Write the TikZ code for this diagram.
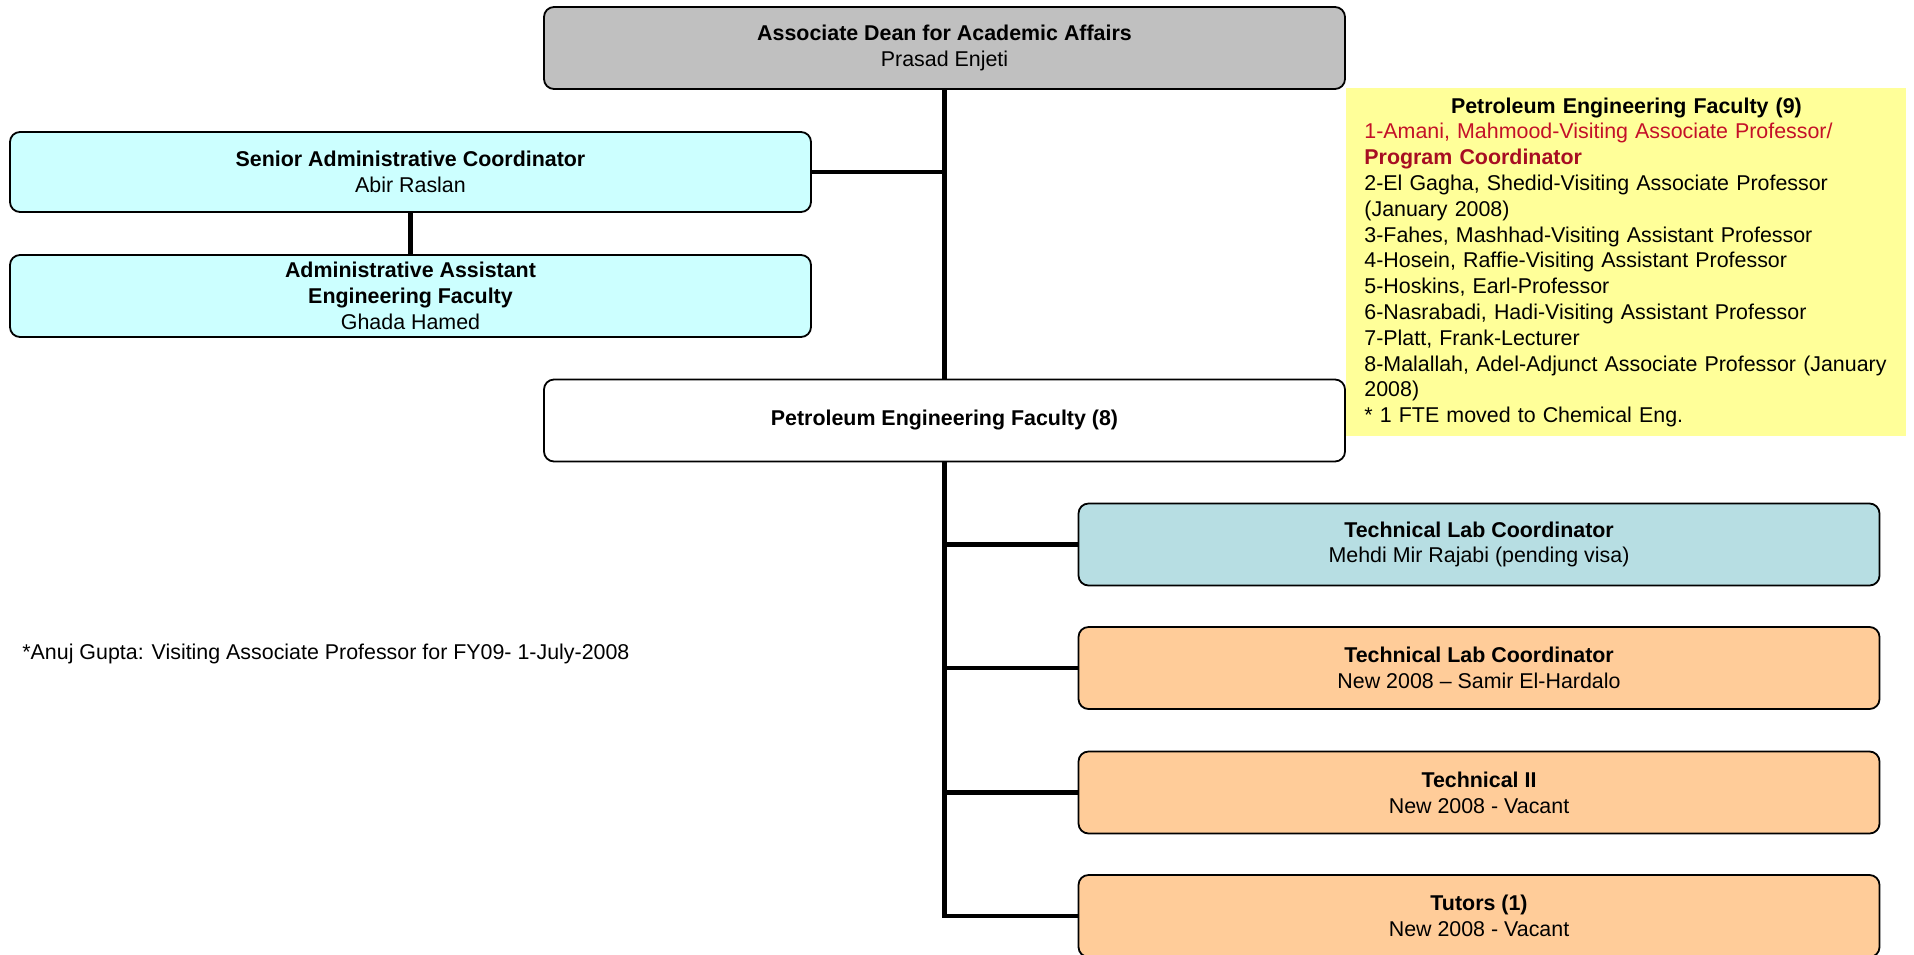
\documentclass[tikz,border=0pt]{standalone}
\usepackage{fontspec}
\setmainfont{Liberation Sans}
\usepackage{tikz}
\usetikzlibrary{calc,positioning}
\definecolor{deangray}{RGB}{192,192,192}
\definecolor{admincyan}{RGB}{204,255,255}
\definecolor{labteal}{RGB}{183,222,227}
\definecolor{techorange}{RGB}{255,204,153}
\definecolor{notesyellow}{RGB}{255,255,153}
\definecolor{coordred}{RGB}{196,16,40}
\newcommand{\boxfont}{\fontsize{10.7}{12.9}\selectfont}
\tikzset{
  orgbox/.style={draw, line width=0.9pt, rounded corners=5pt, minimum width=400.5pt,
    minimum height=41pt, align=center, font=\boxfont},
  trunk/.style={line width=2.2pt},
  yellowpanel/.style={fill=notesyellow, text width=262pt, inner xsep=9pt, inner ysep=0pt,
    minimum height=174pt, align=left, font=\boxfont},
}

\begin{document}
\begin{tikzpicture}[x=0.5pt,y=-0.5pt]
    \pgfmathsetmacro{\midx}{944.5}
    \pgfmathsetmacro{\leftx}{410.5}
    \pgfmathsetmacro{\rightx}{1479}

    \useasboundingbox (0,0) rectangle (1914,954);

    % upper part
    \node[orgbox, fill=deangray] (dean) at (\midx,48)
        {\textbf{Associate Dean for Academic Affairs}\\Prasad Enjeti};
    \node[orgbox, fill=admincyan, minimum height=40pt] (senior) at (\leftx,172)
        {\textbf{Senior Administrative Coordinator}\\Abir Raslan};
    \node[orgbox, fill=admincyan] (asst) at (\leftx,296)
        {\textbf{Administrative Assistant}\\\textbf{Engineering Faculty}\\Ghada Hamed};
    \node[orgbox, fill=white] (pef) at (\midx,420.5)
        {\textbf{Petroleum Engineering Faculty (8)}};

    \node[yellowpanel, anchor=north west] (facultylist) at (1346,88) {%
        \centerline{\bfseries Petroleum Engineering Faculty (9)}
        {\color{coordred}1-Amani, Mahmood-Visiting Associate Professor/}\\
        {\color{coordred!85!black}\bfseries Program Coordinator}\\
        2-El Gagha, Shedid-Visiting Associate Professor\\
        (January 2008)\\
        3-Fahes, Mashhad-Visiting Assistant Professor\\
        4-Hosein, Raffie-Visiting Assistant Professor\\
        5-Hoskins, Earl-Professor\\
        6-Nasrabadi, Hadi-Visiting Assistant Professor\\
        7-Platt, Frank-Lecturer\\
        8-Malallah, Adel-Adjunct Associate Professor (January\\
        2008)\\
        {}* 1 FTE moved to Chemical Eng.};

    % lower part
    \node[orgbox, fill=labteal] (lab1) at (\rightx,544.5)
        {\textbf{Technical Lab Coordinator}\\Mehdi Mir Rajabi (pending visa)};
    \node[orgbox, fill=techorange] (lab2) at (\rightx,668)
        {\textbf{Technical Lab Coordinator}\\New 2008 – Samir El-Hardalo};
    \node[orgbox, fill=techorange] (tech2) at (\rightx,792.5)
        {\textbf{Technical II}\\New 2008 - Vacant};
    \node[orgbox, fill=techorange] (tutors) at (\rightx,916)
        {\textbf{Tutors (1)}\\New 2008 - Vacant};

    \node[anchor=west, inner sep=0pt, font=\boxfont] (anujnote) at (22,654)
        {*Anuj Gupta: Visiting Associate Professor for FY09- 1-July-2008};

    \draw[trunk] (dean.south) -- (pef.north);
    \draw[trunk] (senior.east) -- (senior.east -| dean.south);
    \draw[trunk] (senior.south) -- (asst.north);
    \draw[trunk] (pef.south) -- (pef.south |- tutors.west) -- (tutors.west);
    \foreach \b in {lab1,lab2,tech2}
        \draw[trunk] (pef.south |- \b.west) -- (\b.west);
\end{tikzpicture}
\end{document}
